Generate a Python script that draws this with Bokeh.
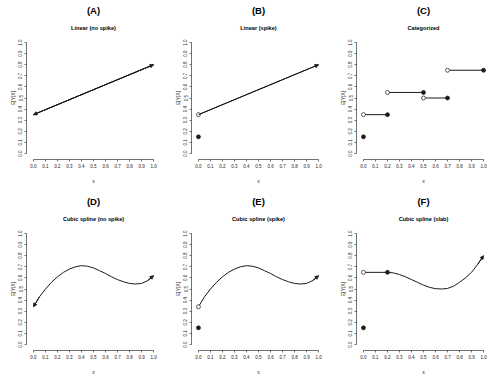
from bokeh.plotting import figure
from bokeh.layouts import column, row
from bokeh.models import Title, Arrow, NormalHead, FixedTicker, PrintfTickFormatter
from bokeh.embed import file_html
from bokeh.resources import INLINE

# ---------------- data ----------------
ticks = [0.0, 0.1, 0.2, 0.3, 0.4, 0.5, 0.6, 0.7, 0.8, 0.9, 1.0]
letters = ["(A)", "(B)", "(C)", "(D)", "(E)", "(F)"]
subtitles = ["Linear (no spike)", "Linear (spike)", "Categorized",
             "Cubic spline (no spike)", "Cubic spline (spike)", "Cubic spline (slab)"]
x_label = "x"
y_label = "E[Y|X]"

# linear
lin_x = [0.0, 1.0]
lin_y = [0.35, 0.80]
# spike at zero
spike_x = [0.0]
spike_y = [0.15]
# categorized
cat_start = [0.0, 0.2, 0.5, 0.7]
cat_end = [0.2, 0.5, 0.7, 1.0]
cat_y = [0.35, 0.55, 0.50, 0.75]
# cubic spline
spl_x = [0.0, 0.05, 0.1, 0.15, 0.2, 0.25, 0.3, 0.35, 0.4, 0.45, 0.5,
         0.55, 0.6, 0.65, 0.7, 0.75, 0.8, 0.85, 0.9, 0.95, 1.0]
spl_y = [0.34, 0.43, 0.50, 0.56, 0.61, 0.65, 0.68, 0.70, 0.71, 0.705, 0.69,
         0.665, 0.64, 0.61, 0.585, 0.565, 0.55, 0.545, 0.55, 0.575, 0.62]
# slab + spline
slab_x = [0.0, 0.2]
slab_y = [0.65, 0.65]
slab_curve_x = [0.2, 0.25, 0.3, 0.35, 0.4, 0.45, 0.5, 0.55, 0.6, 0.65, 0.7,
                0.75, 0.8, 0.85, 0.9, 0.95, 1.0]
slab_curve_y = [0.65, 0.645, 0.63, 0.61, 0.585, 0.56, 0.535, 0.515, 0.503, 0.50, 0.505,
                0.525, 0.56, 0.60, 0.65, 0.72, 0.80]

# ---------------- style ----------------
FONT = "Liberation Sans"
LINE = "#1a1a1a"
AXIS = "#4d4d4d"
FRAME_W = 134
LEFT = 26
PT = 4


def make_fig(k, width, height, top, bottom):
    p = figure(width=width, height=height, output_backend="svg", toolbar_location=None,
               x_range=(-0.058, 1.058), y_range=(-0.054, 1.054),
               min_border_left=LEFT, min_border_right=width - LEFT - FRAME_W,
               min_border_top=top, min_border_bottom=bottom)
    p.outline_line_color = None
    p.grid.visible = False
    p.background_fill_color = "white"
    p.border_fill_color = "white"

    # outer title: panel letter
    p.title.text = letters[k]
    p.title.align = "center"
    p.title.text_font = FONT
    p.title.text_font_size = "9.5px"
    p.title.text_font_style = "bold"
    p.title.text_color = "#000"
    p.title.standoff = 1
    # inner title: panel description
    p.add_layout(Title(text=subtitles[k], align="center", text_font=FONT,
                       text_font_size="5.6px", text_font_style="bold",
                       text_color="#000", standoff=12), "above")

    for ax in (p.xaxis[0], p.yaxis[0]):
        ax.ticker = FixedTicker(ticks=ticks)
        ax.formatter = PrintfTickFormatter(format="%.1f")
        ax.bounds = (ticks[0], ticks[-1])
        ax.axis_line_color = AXIS
        ax.axis_line_width = 0.8
        ax.major_tick_line_color = AXIS
        ax.major_tick_line_width = 0.8
        ax.major_tick_out = 2
        ax.major_tick_in = 0
        ax.minor_tick_line_color = None
        ax.major_label_text_font = FONT
        ax.major_label_text_font_size = "4.5px"
        ax.major_label_text_color = "#222"
        ax.axis_label_text_font = FONT
        ax.axis_label_text_font_size = "5px"
        ax.axis_label_text_font_style = "normal"
        ax.axis_label_text_color = "#222"
    p.xaxis.axis_label = x_label
    p.yaxis.axis_label = y_label
    p.xaxis.major_label_standoff = 2
    p.xaxis.axis_label_standoff = 7
    p.yaxis.major_label_standoff = 2
    p.yaxis.axis_label_standoff = 0
    p.yaxis.major_label_orientation = "vertical"
    return p


def head():
    return NormalHead(size=3.5, fill_color=LINE, line_color=LINE, line_width=0.8)


def arrow(p, x0, y0, x1, y1):
    p.add_layout(Arrow(end=head(), x_start=x0, y_start=y0, x_end=x1, y_end=y1,
                       line_color=LINE, line_width=1))


def open_pt(p, x, y):
    p.scatter(x, y, size=PT, fill_color="white", line_color=LINE, line_width=0.7)


def filled_pt(p, x, y):
    p.scatter(x, y, size=PT, fill_color=LINE, line_color=LINE, line_width=0.7)


# layout geometry: column widths and row heights (px)
col_w = [165, 165, 174]
row_h = [191, 191]
row_top = [36, 36]
row_bottom = [32, 32]

figs = []
for k in range(6):
    r, c = divmod(k, 3)
    figs.append(make_fig(k, col_w[c], row_h[r], row_top[r], row_bottom[r]))

# (A) linear, no spike
pA = figs[0]
pA.line(lin_x, lin_y, line_color=LINE, line_width=1)
arrow(pA, lin_x[1], lin_y[1], lin_x[0], lin_y[0])
arrow(pA, lin_x[0], lin_y[0], lin_x[1], lin_y[1])

# (B) linear with spike
pB = figs[1]
pB.line(lin_x, lin_y, line_color=LINE, line_width=1)
arrow(pB, lin_x[0], lin_y[0], lin_x[1], lin_y[1])
open_pt(pB, lin_x[:1], lin_y[:1])
filled_pt(pB, spike_x, spike_y)

# (C) categorized
pC = figs[2]
pC.segment(x0=cat_start, y0=cat_y, x1=cat_end, y1=cat_y, line_color=LINE, line_width=1)
open_pt(pC, cat_start, cat_y)
filled_pt(pC, cat_end, cat_y)
filled_pt(pC, spike_x, spike_y)

# (D) cubic spline, no spike
pD = figs[3]
pD.line(spl_x, spl_y, line_color=LINE, line_width=1)
arrow(pD, spl_x[1], spl_y[1], spl_x[0], spl_y[0])
arrow(pD, spl_x[-2], spl_y[-2], spl_x[-1], spl_y[-1])

# (E) cubic spline with spike
pE = figs[4]
pE.line(spl_x, spl_y, line_color=LINE, line_width=1)
arrow(pE, spl_x[-2], spl_y[-2], spl_x[-1], spl_y[-1])
open_pt(pE, spl_x[:1], spl_y[:1])
filled_pt(pE, spike_x, spike_y)

# (F) cubic spline with slab
pF = figs[5]
pF.line(slab_x, slab_y, line_color=LINE, line_width=1)
pF.line(slab_curve_x, slab_curve_y, line_color=LINE, line_width=1)
arrow(pF, slab_curve_x[-2], slab_curve_y[-2], slab_curve_x[-1], slab_curve_y[-1])
open_pt(pF, slab_x[:1], slab_y[:1])
filled_pt(pF, slab_x[1:], slab_y[1:])
filled_pt(pF, spike_x, spike_y)

layout = column(row(*figs[:3], spacing=0), row(*figs[3:], spacing=0), spacing=0)

open("out.html", "w").write(file_html(layout, INLINE))
